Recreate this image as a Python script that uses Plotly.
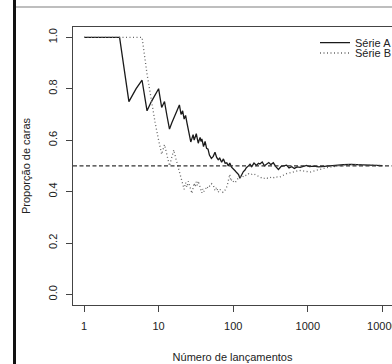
import plotly.graph_objects as go

# ---- data ----
nA = [1, 2, 3, 4, 5, 6, 7, 8, 9, 10, 11, 12, 13, 14, 15, 16, 17, 18, 19, 20,
      21, 22, 23, 24, 25, 26, 27, 28, 29, 30, 31, 32, 33, 34, 35, 36, 37, 38, 39, 40,
      42, 44, 46, 48, 51, 54, 57, 60, 63, 66, 70, 74, 78, 82, 86, 90, 95, 100,
      106, 112, 118, 123, 130, 137, 143, 150, 160, 168, 177, 190, 205, 218, 228,
      245, 262, 280, 300, 320, 345, 375, 404, 440, 480, 520, 560, 610, 660, 720,
      790, 860, 965, 1050, 1200, 1400, 1650, 1900, 2200, 2600, 3000, 3700, 4500,
      5500, 6500, 8000, 9300, 10000]
pA = [1.0, 1.0, 1.0, 0.75, 0.8, 0.833, 0.714, 0.75, 0.778, 0.8, 0.727, 0.75, 0.692, 0.643,
      0.667, 0.6875, 0.706, 0.722, 0.737, 0.70, 0.714, 0.682, 0.696, 0.667, 0.64, 0.615,
      0.593, 0.607, 0.621, 0.60, 0.613, 0.625, 0.606, 0.588, 0.60, 0.611, 0.595, 0.605,
      0.59, 0.575, 0.595, 0.568, 0.565, 0.542, 0.529, 0.537, 0.553, 0.533, 0.524, 0.53,
      0.514, 0.527, 0.51, 0.512, 0.50, 0.511, 0.495, 0.49, 0.481, 0.473, 0.466, 0.452,
      0.469, 0.478, 0.483, 0.493, 0.50, 0.506, 0.497, 0.511, 0.502, 0.51, 0.507, 0.515,
      0.50, 0.508, 0.513, 0.505, 0.512, 0.496, 0.486, 0.498, 0.502, 0.503, 0.492, 0.497,
      0.49, 0.496, 0.494, 0.498, 0.502, 0.497, 0.499, 0.496, 0.498, 0.50, 0.503, 0.504,
      0.505, 0.506, 0.505, 0.504, 0.503, 0.502, 0.502, 0.501]

nB = [1, 2, 3, 4, 5, 6, 7, 8, 9, 10, 11, 12, 13, 14, 15, 16, 17, 18, 19, 20,
      21, 22, 23, 24, 25, 26, 27, 28, 29, 30, 31, 32, 33, 34, 35, 36, 37, 38, 39, 40,
      42, 44, 46, 48, 51, 54, 57, 60, 63, 66, 70, 73, 77, 80, 83, 86, 90, 93, 96, 100,
      106, 112, 118, 123, 130, 137, 143, 150, 160, 170, 186, 200, 215, 228, 240, 254,
      270, 290, 311, 340, 370, 400, 425, 460, 520, 580, 650, 720, 790, 880, 960, 1070,
      1200, 1300, 1460, 1650, 1800, 1980, 2300, 2700, 3200, 3700, 4500, 5500, 6500,
      8000, 10000]
pB = [1.0, 1.0, 1.0, 1.0, 1.0, 1.0, 0.857, 0.75, 0.667, 0.60, 0.545, 0.583, 0.538, 0.50,
      0.533, 0.5625, 0.529, 0.50, 0.474, 0.45, 0.429, 0.409, 0.435, 0.417, 0.44, 0.423,
      0.407, 0.393, 0.414, 0.433, 0.419, 0.4375, 0.424, 0.441, 0.429, 0.417, 0.405, 0.395,
      0.41, 0.40, 0.405, 0.42, 0.413, 0.42, 0.431, 0.426, 0.404, 0.417, 0.397, 0.409, 0.40,
      0.397, 0.403, 0.412, 0.422, 0.442, 0.467, 0.441, 0.448, 0.44, 0.434, 0.446, 0.453,
      0.458, 0.454, 0.46, 0.465, 0.462, 0.469, 0.465, 0.47, 0.465, 0.46, 0.456, 0.452,
      0.45, 0.455, 0.452, 0.456, 0.452, 0.458, 0.455, 0.457, 0.463, 0.47, 0.473, 0.478,
      0.48, 0.482, 0.48, 0.478, 0.476, 0.48, 0.483, 0.485, 0.49, 0.493, 0.495, 0.498,
      0.502, 0.504, 0.506, 0.505, 0.504, 0.503, 0.502, 0.501]

ref_level = 0.5
x_ticks = [1, 10, 100, 1000, 10000]
x_tick_labels = ["1", "10", "100", "1000", "10000"]
y_ticks = [0.0, 0.2, 0.4, 0.6, 0.8, 1.0]
y_tick_labels = ["0.0", "0.2", "0.4", "0.6", "0.8", "1.0"]

FONT = "Liberation Sans, Arial, sans-serif"
W, H = 392, 364
ML, MR, MT, MB = 73, 0, 27, 59
PW, PH = W - ML - MR, H - MT - MB

fig = go.Figure()
fig.add_trace(go.Scatter(x=nA, y=pA, mode="lines", name="Série A",
                         line=dict(color="#1a1a1a", width=1.3), legend="legend"))
fig.add_trace(go.Scatter(x=nB, y=pB, mode="lines", name="Série B",
                         line=dict(color="#666666", width=1.3, dash="1px,2.5px"),
                         legend="legend2"))
fig.add_hline(y=ref_level, line=dict(color="#333333", width=1.2, dash="4px,2.5px"))

def px_x(p):
    return (p - ML) / PW

def px_y(p):
    return (H - MB - p) / PH

# page frame decorations (grey rule at top, black bar at left)
fig.add_shape(type="line", xref="paper", yref="paper", x0=px_x(16), x1=px_x(W + 2),
              y0=px_y(7), y1=px_y(7), line=dict(color="#a8a8a8", width=1.5))
fig.add_shape(type="line", xref="paper", yref="paper", x0=px_x(14.5), x1=px_x(14.5),
              y0=px_y(0), y1=px_y(H), line=dict(color="#111111", width=3))

leg_common = dict(font=dict(family=FONT, size=11, color="#222"), bgcolor="rgba(0,0,0,0)",
                  borderwidth=0, xanchor="left", yanchor="middle", tracegroupgap=0,
                  itemwidth=30)

fig.update_layout(
    width=W, height=H,
    margin=dict(l=ML, r=MR, t=MT, b=MB, autoexpand=False),
    paper_bgcolor="white", plot_bgcolor="white",
    font=dict(family=FONT, size=11, color="#222"),
    showlegend=True,
    legend=dict(x=px_x(315), y=px_y(42.7), **leg_common),
    legend2=dict(x=px_x(315), y=px_y(53), **leg_common),
    xaxis=dict(type="log", range=[(ML - 84) / 74.6, (W - 84) / 74.6],
               tickvals=x_ticks, ticktext=x_tick_labels, ticks="outside", ticklen=6,
               tickcolor="#444", showgrid=False, zeroline=False, showline=True,
               linecolor="#444", linewidth=1, mirror=True, automargin=False,
               ticklabeloverflow="allow", ticklabelstandoff=5,
               tickfont=dict(size=11, color="#222"),
               title=dict(text="Número de lançamentos", font=dict(size=11), standoff=22)),
    yaxis=dict(range=[-0.041, 1.04], tickvals=y_ticks, ticktext=y_tick_labels,
               ticks="outside", ticklen=6, tickcolor="#444", tickangle=-90,
               showgrid=False, zeroline=False, showline=True, linecolor="#444",
               linewidth=1, mirror=False, automargin=False,
               tickfont=dict(size=11, color="#222"),
               ticklabelstandoff=5,
               title=dict(text="Proporção de caras", font=dict(size=11), standoff=13)),
)

fig.write_html("out.html", config={"displayModeBar": False},
               post_script="document.body.style.margin='0px';document.body.style.overflow='hidden';")
